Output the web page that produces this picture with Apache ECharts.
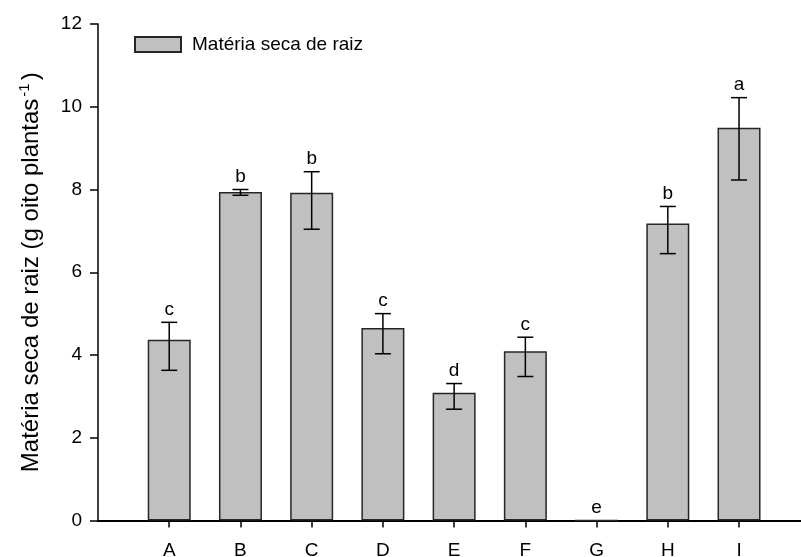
<!DOCTYPE html>
<html>
<head>
<meta charset="utf-8">
<script src="https://cdn.jsdelivr.net/npm/echarts@6/dist/echarts.min.js"></script>
<style>
  html, body { margin: 0; padding: 0; background: #fff; }
  #chart { width: 801px; height: 557px; }
</style>
</head>
<body>
<div id="chart"></div>
<script>
// Root dry matter per treatment (g per eight plants)
const categories = ['A', 'B', 'C', 'D', 'E', 'F', 'G', 'H', 'I'];
const means      = [4.37, 7.94, 7.92, 4.65, 3.09, 4.09, 0, 7.18, 9.49];
const errLow     = [3.63, 7.86, 7.04, 4.03, 2.69, 3.48, 0, 6.45, 8.23];
const errHigh    = [4.79, 8.00, 8.43, 5.00, 3.31, 4.43, 0, 7.59, 10.22];
const letters    = ['c', 'b', 'b', 'c', 'd', 'c', 'e', 'b', 'a'];
const yTicks     = [0, 2, 4, 6, 8, 10, 12];

const seriesName = 'Matéria seca de raiz';
const FONT = '"Liberation Sans", Arial, Helvetica, sans-serif';

// Treatments sit at positions 1..9 on a numeric x scale; the frame runs a little past the last one
const positions = categories.map((c, i) => i + 1);
const barData = means.map((v, i) => [positions[i], v]);
const errData = means.map((v, i) => [positions[i], errLow[i], errHigh[i], letters[i]]);

const chart = echarts.init(document.getElementById('chart'), null, { renderer: 'canvas' });

chart.setOption({
  animation: false,
  backgroundColor: '#ffffff',
  grid: { left: 98, right: 0, top: 24, bottom: 36.5, containLabel: false, outerBoundsMode: 'none' },
  legend: {
    data: [seriesName],
    left: 134, top: 35,
    padding: 0,
    icon: 'rect',
    itemWidth: 46, itemHeight: 15,
    textStyle: { fontFamily: FONT, fontSize: 19, color: '#000', padding: [0, 0, 0, 6] }
  },
  xAxis: {
    type: 'value',
    min: 0, max: 9.87,
    axisLine: { show: true, onZero: false, lineStyle: { color: '#000', width: 2 } },
    axisTick: {
      show: true, inside: false, length: 7,
      customValues: positions,
      lineStyle: { color: '#000', width: 1.5 }
    },
    axisLabel: {
      color: '#000', fontFamily: FONT, fontSize: 19, margin: 21,
      customValues: positions,
      formatter: (v) => categories[Math.round(v) - 1] || ''
    },
    splitLine: { show: false }
  },
  yAxis: {
    type: 'value',
    min: yTicks[0], max: yTicks[yTicks.length - 1], interval: 2,
    name: '{t|Matéria seca de raiz (g oito plantas}{s|-1}{t|)}',
    nameLocation: 'middle',
    nameGap: 52,
    nameRotate: 90,
    nameTextStyle: {
      rich: {
        t: { fontFamily: FONT, fontSize: 24, color: '#000' },
        s: { fontFamily: FONT, fontSize: 15, color: '#000', padding: [0, 3, 14, 2] }
      }
    },
    axisLine: { show: true, onZero: false, lineStyle: { color: '#000', width: 1.5 } },
    axisTick: { show: true, inside: false, length: 8, lineStyle: { color: '#000', width: 1.5 } },
    axisLabel: { color: '#000', fontFamily: FONT, fontSize: 19, margin: 16 },
    splitLine: { show: false }
  },
  series: [
    {
      name: seriesName,
      type: 'bar',
      data: barData,
      barWidth: 43,
      itemStyle: { color: '#c0c0c0', borderColor: '#262626', borderWidth: 1.5 },
      z: 2
    },
    {
      type: 'custom',
      data: errData,
      z: 5,
      renderItem: function (params, api) {
        const x = api.value(0);
        const lo = api.value(1);
        const hi = api.value(2);
        const letter = errData[params.dataIndex][3];
        const pHi = api.coord([x, hi]);
        const pLo = api.coord([x, lo]);
        const cap = 8;
        const style = { stroke: '#000', lineWidth: 1.5 };
        const children = [];
        if (hi > lo) {
          children.push(
            { type: 'line', shape: { x1: pHi[0], y1: pHi[1], x2: pLo[0], y2: pLo[1] }, style: style },
            { type: 'line', shape: { x1: pHi[0] - cap, y1: pHi[1], x2: pHi[0] + cap, y2: pHi[1] }, style: style },
            { type: 'line', shape: { x1: pLo[0] - cap, y1: pLo[1], x2: pLo[0] + cap, y2: pLo[1] }, style: style }
          );
        }
        children.push({
          type: 'text',
          style: {
            text: letter, x: pHi[0], y: pHi[1] - 3,
            align: 'center', verticalAlign: 'bottom',
            font: '19px ' + FONT, fill: '#000'
          }
        });
        return { type: 'group', children: children };
      }
    }
  ]
});
</script>
</body>
</html>
